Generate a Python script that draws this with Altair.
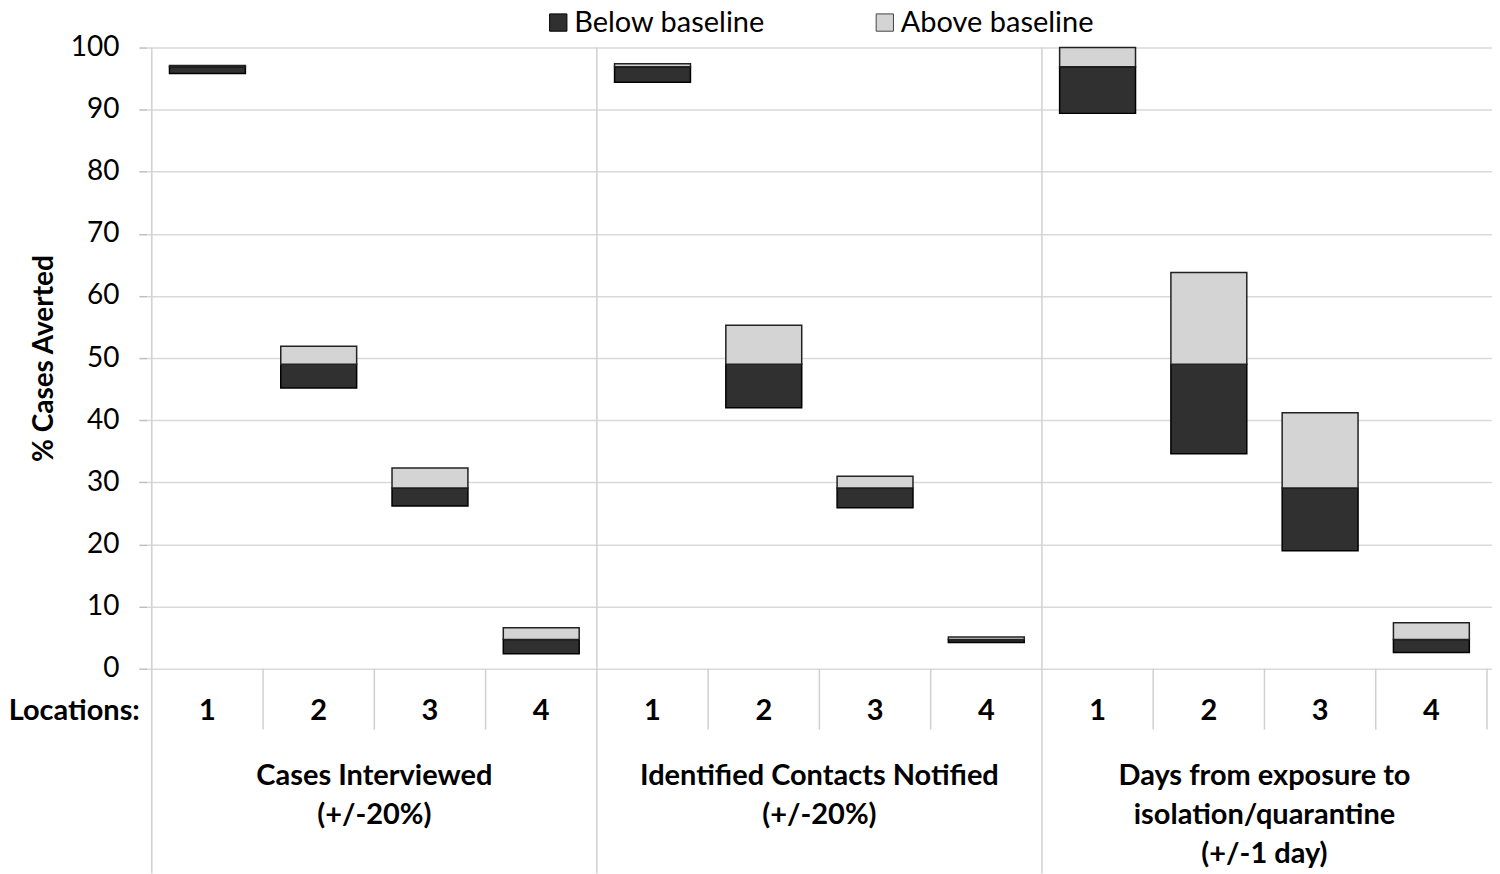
import altair as alt
import pandas as pd

# ---- data ----
groups = [
    "Cases Interviewed\n(+/-20%)",
    "Identified Contacts Notified\n(+/-20%)",
    "Days from exposure to\nisolation/quarantine\n(+/-1 day)",
]
locations = ["1", "2", "3", "4"]
baseline = [96.9, 49.0, 29.1, 4.7]
low = [
    [95.8, 45.2, 26.2, 2.4],
    [94.4, 42.0, 25.9, 4.2],
    [89.4, 34.6, 19.0, 2.6],
]
high = [
    [97.1, 51.9, 32.3, 6.6],
    [97.4, 55.3, 31.0, 5.1],
    [100.0, 63.8, 41.2, 7.4],
]
legend_labels = ["Below baseline", "Above baseline"]
colors = ["#303030", "#d4d4d4"]
y_ticks = list(range(0, 101, 10))

FONT = "Lato"
FS = 29
W, H = 1347, 622

rows = []
for g, name in enumerate(groups):
    for l, loc in enumerate(locations):
        rows.append({"pos": g * 4 + l + 1, "loc": loc,
                     "low": low[g][l], "base": baseline[l], "high": high[g][l]})
df = pd.DataFrame(rows)

n_loc = len(locations)
grp_df = pd.DataFrame({"pos": [g * n_loc + (n_loc + 1) / 2 for g in range(len(groups))],
                       "label": groups})
full_sep = [g * n_loc + 0.5 for g in range(len(groups))]
short_sep = [p + 0.5 for p in df["pos"] if (p + 0.5) not in full_sep]
full_df = pd.DataFrame({"pos": full_sep})
short_df = pd.DataFrame({"pos": short_sep})

xscale = alt.Scale(domain=[0.5, len(groups) * n_loc + 0.5], zero=False, nice=False)
X = alt.X("pos:Q", scale=xscale, axis=None)
yaxis = alt.Axis(
    title="% Cases Averted", titleFontSize=FS - 1, titleFontWeight="bold", titleFont=FONT,
    titleColor="black", titlePadding=12,
    labelFontSize=FS - 1, labelFont=FONT, labelColor="black", labelPadding=20,
    tickSize=8, tickColor="#bfbfbf", tickWidth=1.5,
    grid=True, gridColor="#d9d9d9", gridWidth=1.5, domain=False, values=y_ticks,
)
Y = alt.Y("low:Q", scale=alt.Scale(domain=[0, 100], nice=False), axis=yaxis)

base = alt.Chart(df)

below = base.mark_bar(size=76, fill=colors[0], stroke="black", strokeWidth=1.5).encode(
    x=X, y=Y, y2="base:Q")
above = base.mark_bar(size=76, fill=colors[1], stroke="#222222", strokeWidth=1.5).encode(
    x=X, y=alt.Y("base:Q"), y2="high:Q")

sep_full = alt.Chart(full_df).mark_rule(color="#d0d0d0", strokeWidth=1.5).encode(
    x=X, y=alt.value(0), y2=alt.value(H + 205))
sep_short = alt.Chart(short_df).mark_rule(color="#d0d0d0", strokeWidth=1.5).encode(
    x=X, y=alt.value(H), y2=alt.value(H + 61))

loc_text = base.mark_text(fontSize=FS, fontWeight="bold", font=FONT, color="black",
                          baseline="middle").encode(
    x=X, y=alt.value(H + 42), text="loc:N")
loc_title = alt.Chart(pd.DataFrame({"t": ["Locations:"]})).mark_text(
    fontSize=FS, fontWeight="bold", font=FONT, color="black", align="right",
    baseline="middle").encode(x=alt.value(-7), y=alt.value(H + 42), text="t:N")
grp_text = alt.Chart(grp_df).mark_text(
    fontSize=FS, fontWeight="bold", font=FONT, color="black", baseline="top",
    lineBreak="\n", lineHeight=39.5).encode(
    x=X, y=alt.value(H + 93), text="label:N")

leg_y = -25
leg1_sym = alt.Chart(pd.DataFrame({"t": [legend_labels[0]]})).mark_square(
    size=300, fill=colors[0], stroke="black", strokeWidth=1, opacity=1).encode(
    x=alt.value(412), y=alt.value(leg_y))
leg1_txt = alt.Chart(pd.DataFrame({"t": [legend_labels[0]]})).mark_text(
    fontSize=FS, font=FONT, color="black", align="left", baseline="middle").encode(
    x=alt.value(428), y=alt.value(leg_y), text="t:N")
leg2_sym = alt.Chart(pd.DataFrame({"t": [legend_labels[1]]})).mark_square(
    size=300, fill=colors[1], stroke="#444444", strokeWidth=1, opacity=1).encode(
    x=alt.value(739), y=alt.value(leg_y))
leg2_txt = alt.Chart(pd.DataFrame({"t": [legend_labels[1]]})).mark_text(
    fontSize=FS, font=FONT, color="black", align="left", baseline="middle").encode(
    x=alt.value(755), y=alt.value(leg_y), text="t:N")

chart = alt.layer(
    sep_full, sep_short, below, above, loc_text, loc_title, grp_text,
    leg1_sym, leg1_txt, leg2_sym, leg2_txt,
).properties(width=W, height=H, padding=0, background="white").configure_view(strokeWidth=0)

chart.save("out.html", embed_options={"renderer": "svg", "actions": False})
